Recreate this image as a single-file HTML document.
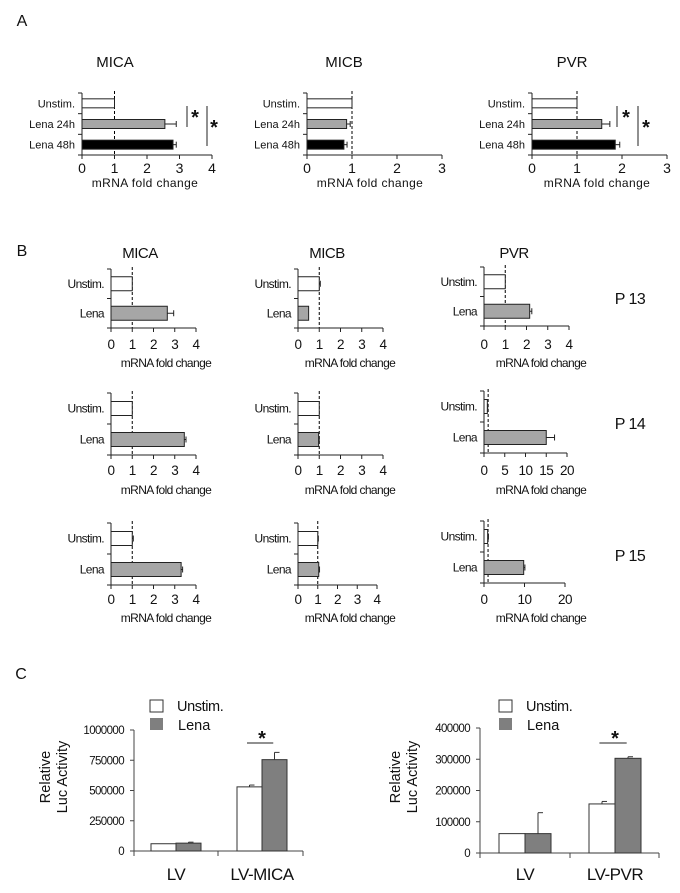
<!DOCTYPE html>
<html><head><meta charset="utf-8"><style>
html,body{margin:0;padding:0;background:#fff}
svg{display:block;font-family:"Liberation Sans",Arial,sans-serif}
</style></head><body>
<svg id="fig" width="680" height="893" viewBox="0 0 680 893" xmlns="http://www.w3.org/2000/svg"></svg>
<script>
// ---------- DATA ----------
const catsA = ["Unstim.", "Lena 24h", "Lena 48h"];
const aMicaVals = [1, 2.55, 2.8];
const aMicaErrs = [0, 0.35, 0.1];
const aMicbVals = [1, 0.88, 0.82];
const aMicbErrs = [0, 0.08, 0.07];
const aPvrVals = [1, 1.55, 1.85];
const aPvrErrs = [0, 0.18, 0.1];
const ticksA4 = [0, 1, 2, 3, 4];
const ticksA3 = [0, 1, 2, 3];

const catsB = ["Unstim.", "Lena"];
const b13MicaVals = [1, 2.65];  const b13MicaErrs = [0, 0.3];
const b13MicbVals = [1, 0.5];   const b13MicbErrs = [0.05, 0];
const b13PvrVals = [1, 2.15];   const b13PvrErrs = [0, 0.1];
const b14MicaVals = [1, 3.45];  const b14MicaErrs = [0, 0.08];
const b14MicbVals = [1, 0.97];  const b14MicbErrs = [0, 0.03];
const b14PvrVals = [0.8, 15];   const b14PvrErrs = [0.1, 2];
const b15MicaVals = [1, 3.3];   const b15MicaErrs = [0.05, 0.07];
const b15MicbVals = [1, 1.05];  const b15MicbErrs = [0.03, 0.04];
const b15PvrVals = [0.9, 9.8];  const b15PvrErrs = [0.2, 0.3];
const ticksB4 = [0, 1, 2, 3, 4];
const ticksB20 = [0, 5, 10, 15, 20];
const ticksB20b = [0, 10, 20];

const groupsC1 = ["LV", "LV-MICA"];
const c1Unstim = [60000, 530000];  const c1UnstimErr = [0, 15000];
const c1Lena = [65000, 755000];    const c1LenaErr = [8000, 60000];
const ticksC1 = [0, 250000, 500000, 750000, 1000000];
const groupsC2 = ["LV", "LV-PVR"];
const c2Unstim = [62000, 157000];  const c2UnstimErr = [0, 8000];
const c2Lena = [62000, 303000];    const c2LenaErr = [67000, 5000];
const ticksC2 = [0, 100000, 200000, 300000, 400000];

// ---------- DRAW ----------
const NS = "http://www.w3.org/2000/svg";
const svg = document.getElementById("fig");
function mk(tag, attrs, name) {
  const el = document.createElementNS(NS, tag);
  for (const k in attrs) el.setAttribute(k, attrs[k]);
  
  
  svg.appendChild(el);
  return el;
}
function txt(x, y, s, size, anchor, name, extra) {
  const t = mk("text", Object.assign({x: x, y: y, "font-size": size, "text-anchor": anchor || "middle", fill: "#111"}, extra || {}), name);
  t.textContent = s;
  return t;
}
const fillsA = ["#fff", "#a6a6a6", "#000"];
const fillsB = ["#fff", "#a6a6a6"];

function hchart(p, id) {
  const sx = v => p.x0 + v / p.max * (p.x1 - p.x0);
  const n = p.cats.length, band = (p.bottom - p.top) / n;
  // dashed reference
  mk("line", {x1: sx(1), x2: sx(1), y1: p.top - 2, y2: p.bottom, stroke: "#000", "stroke-dasharray": "3,2", "stroke-width": 1}, id + "-reference-line");
  for (let i = 0; i < n; i++) {
    const cy = p.top + band * (i + 0.5);
    mk("rect", {x: sx(0), y: cy - p.barH / 2, width: sx(p.vals[i]) - sx(0), height: p.barH, fill: p.fills[i], stroke: "#222", "stroke-width": 1}, id + "-bar-" + i);
    if (p.errs[i] > 0) {
      const xe = sx(p.vals[i] + p.errs[i]);
      mk("line", {x1: sx(p.vals[i]), x2: xe, y1: cy, y2: cy, stroke: "#222"}, id + "-error-" + i);
      mk("line", {x1: xe, x2: xe, y1: cy - 3, y2: cy + 3, stroke: "#222"}, id + "-error-cap-" + i);
    }
    txt(p.x0 - 7, cy + 4, p.cats[i], p.catSize, "end", id + "-category-label", p.cond ? {"letter-spacing": "-0.6"} : {});
  }
  mk("line", {x1: p.x0, x2: p.x0, y1: p.top, y2: p.bottom, stroke: "#222"}, id + "-y-axis");
  for (let i = 0; i <= n; i++) {
    const y = p.top + band * i;
    mk("line", {x1: p.x0 - 4, x2: p.x0, y1: y, y2: y, stroke: "#222"}, id + "-y-tick");
  }
  mk("line", {x1: p.x0, x2: p.x1, y1: p.bottom, y2: p.bottom, stroke: "#222"}, id + "-x-axis");
  p.ticks.forEach(t => {
    mk("line", {x1: sx(t), x2: sx(t), y1: p.bottom, y2: p.bottom + 4, stroke: "#222"}, id + "-x-tick");
    txt(sx(t), p.tickY, String(t), p.tickSize, "middle", id + "-x-tick-label", p.cond ? {"letter-spacing": "-0.5"} : {});
  });
  txt(p.labelX, p.labelY, "mRNA fold change", p.labSize, "middle", id + "-x-axis-title", p.cond ? {"letter-spacing": "-0.6"} : {"letter-spacing": "0.4"});
}

function vchart(p, id) {
  const sy = v => p.y0 - v / p.max * (p.y0 - p.yTop);
  mk("line", {x1: p.ax, x2: p.ax, y1: p.yTop, y2: p.y0, stroke: "#444"}, id + "-y-axis");
  p.ticks.forEach(t => {
    mk("line", {x1: p.ax - 4, x2: p.ax, y1: sy(t), y2: sy(t), stroke: "#444"}, id + "-y-tick");
    txt(p.ax - 10, sy(t) + 4, String(t), 11.5, "end", id + "-y-tick-label", {"letter-spacing": "-0.6"});
  });
  mk("line", {x1: p.ax, x2: p.axEnd, y1: p.y0, y2: p.y0, stroke: "#444"}, id + "-x-axis");
  [p.ax, p.div, p.axEnd].forEach(x => mk("line", {x1: x, x2: x, y1: p.y0, y2: p.y0 + 5, stroke: "#444"}, id + "-x-tick"));
  p.groups.forEach((g, i) => {
    const left = p.groupLeft[i];
    const series = [[p.u, p.ue, "#fff"], [p.l, p.le, "#7f7f7f"]];
    series.forEach((s, j) => {
      const x = left + j * p.bw;
      mk("rect", {x: x, y: sy(s[0][i]), width: p.bw, height: p.y0 - sy(s[0][i]), fill: s[2], stroke: "#333", "stroke-width": 1}, id + "-bar-" + g + "-" + (j ? "lena" : "unstim"));
      if (s[1][i] > 0) {
        const cx = x + p.bw / 2, ye = sy(s[0][i] + s[1][i]);
        mk("line", {x1: cx, x2: cx, y1: sy(s[0][i]), y2: ye, stroke: "#333"}, id + "-error");
        mk("line", {x1: cx, x2: cx + 5, y1: ye, y2: ye, stroke: "#333"}, id + "-error-cap");
      }
    });
    txt(left + p.bw, 880, g, 17, "middle", id + "-category-label", {"letter-spacing": "-0.5"});
  });
  // significance
  const si = 1, sl = p.groupLeft[si];
  mk("line", {x1: sl + p.bw * 0.4, x2: sl + p.bw * 1.45, y1: 743, y2: 743, stroke: "#222"}, id + "-significance-line");
  txt(sl + p.bw, 745, "*", 20, "middle", id + "-significance-star", {"font-weight": "bold"});
  // legend
  mk("rect", {x: p.legX, y: 700, width: 13, height: 12, fill: "#fff", stroke: "#333"}, id + "-legend-swatch-unstim");
  txt(p.legX + 27, 711, "Unstim.", 14.5, "start", id + "-legend-label-unstim", {"letter-spacing": "-0.4"});
  mk("rect", {x: p.legX, y: 718, width: 13, height: 12, fill: "#7f7f7f"}, id + "-legend-swatch-lena");
  txt(p.legX + 28, 730, "Lena", 14.5, "start", id + "-legend-label-lena");
  const g1 = txt(0, 0, "Relative", 14.5, "middle", id + "-y-axis-title-1", {transform: "translate(" + (p.titleX) + ",777) rotate(-90)"});
  const g2 = txt(0, 0, "Luc  Activity", 14.5, "middle", id + "-y-axis-title-2", {transform: "translate(" + (p.titleX + 17) + ",777) rotate(-90)", "xml:space": "preserve"});
}

// Panel letters
txt(22, 26, "A", 16, "middle", "panel-label-a");
txt(22, 256, "B", 16, "middle", "panel-label-b");
txt(21, 679, "C", 16, "middle", "panel-label-c");

// Panel A
txt(115, 67, "MICA", 15, "middle", "a-mica-title");
txt(344, 67, "MICB", 15, "middle", "a-micb-title");
txt(572, 67, "PVR", 15, "middle", "a-pvr-title");
const aBase = {top: 93, bottom: 155, barH: 9, cats: catsA, fills: fillsA, tickY: 173, labelY: 187, catSize: 11, tickSize: 14, labSize: 12};
hchart(Object.assign({}, aBase, {x0: 82, x1: 212, max: 4, vals: aMicaVals, errs: aMicaErrs, ticks: ticksA4, labelX: 145}), "a-mica");
hchart(Object.assign({}, aBase, {x0: 307, x1: 442, max: 3, vals: aMicbVals, errs: aMicbErrs, ticks: ticksA3, labelX: 370}), "a-micb");
hchart(Object.assign({}, aBase, {x0: 532, x1: 667, max: 3, vals: aPvrVals, errs: aPvrErrs, ticks: ticksA3, labelX: 597}), "a-pvr");
// significance A
[[187, 106, 127, 195, 124], [207, 106, 146, 214, 134], [617, 106, 127, 626, 124], [638, 106, 146, 646, 134]].forEach((s, i) => {
  mk("line", {x1: s[0], x2: s[0], y1: s[1], y2: s[2], stroke: "#222"}, "a-significance-bracket");
  txt(s[3], s[4], "*", 20, "middle", "a-significance-star", {"font-weight": "bold"});
});

// Panel B
txt(140, 258, "MICA", 15, "middle", "b-mica-title", {"letter-spacing": "-0.5"});
txt(327, 258, "MICB", 15, "middle", "b-micb-title", {"letter-spacing": "-0.5"});
txt(514, 258, "PVR", 15, "middle", "b-pvr-title", {"letter-spacing": "-0.5"});
const bBase = {barH: 14, cats: catsB, fills: fillsB, catSize: 12, tickSize: 13.5, labSize: 12, cond: true};
const rows = [
  {top: 269, bottom: 328, tickY: 349, labelY: 367, p: "P 13", py: 304,
   m: [b13MicaVals, b13MicaErrs], b: [b13MicbVals, b13MicbErrs], v: [b13PvrVals, b13PvrErrs], vt: ticksB4, vmax: 4, vx1: 569},
  {top: 393, bottom: 455, tickY: 475, labelY: 494, p: "P 14", py: 429,
   m: [b14MicaVals, b14MicaErrs], b: [b14MicbVals, b14MicbErrs], v: [b14PvrVals, b14PvrErrs], vt: ticksB20, vmax: 20, vx1: 567},
  {top: 523, bottom: 585, tickY: 604, labelY: 622, p: "P 15", py: 561,
   m: [b15MicaVals, b15MicaErrs], b: [b15MicbVals, b15MicbErrs], v: [b15PvrVals, b15PvrErrs], vt: ticksB20b, vmax: 20, vx1: 565}
];
rows.forEach((r, i) => {
  const base = Object.assign({}, bBase, {top: r.top, bottom: r.bottom, tickY: r.tickY, labelY: r.labelY});
  hchart(Object.assign({}, base, {x0: 111, x1: 196, max: 4, vals: r.m[0], errs: r.m[1], ticks: ticksB4, labelX: 166}), "b-row" + (i + 1) + "-mica");
  hchart(Object.assign({}, base, {x0: 298, x1: i === 2 ? 377 : 383, max: 4, vals: r.b[0], errs: r.b[1], ticks: ticksB4, labelX: 350}), "b-row" + (i + 1) + "-micb");
  hchart(Object.assign({}, base, {x0: 484, x1: r.vx1, max: r.vmax, vals: r.v[0], errs: r.v[1], ticks: r.vt, labelX: 541, top: r.top - 2, bottom: r.bottom - 2}), "b-row" + (i + 1) + "-pvr");
  txt(630, r.py, r.p, 16, "middle", "b-patient-label-" + (i + 13), {"letter-spacing": "-0.5"});
});

// Panel C
vchart({ax: 134, axEnd: 303, div: 218, y0: 851, yTop: 730, max: 1000000, ticks: ticksC1,
  groups: groupsC1, groupLeft: [151, 237], bw: 25, u: c1Unstim, ue: c1UnstimErr, l: c1Lena, le: c1LenaErr,
  legX: 150, titleX: 50}, "c-mica");
vchart({ax: 480, axEnd: 659, div: 570, y0: 853, yTop: 728, max: 400000, ticks: ticksC2,
  groups: groupsC2, groupLeft: [499, 589], bw: 26, u: c2Unstim, ue: c2UnstimErr, l: c2Lena, le: c2LenaErr,
  legX: 499, titleX: 400}, "c-pvr");
</script>
</body></html>
